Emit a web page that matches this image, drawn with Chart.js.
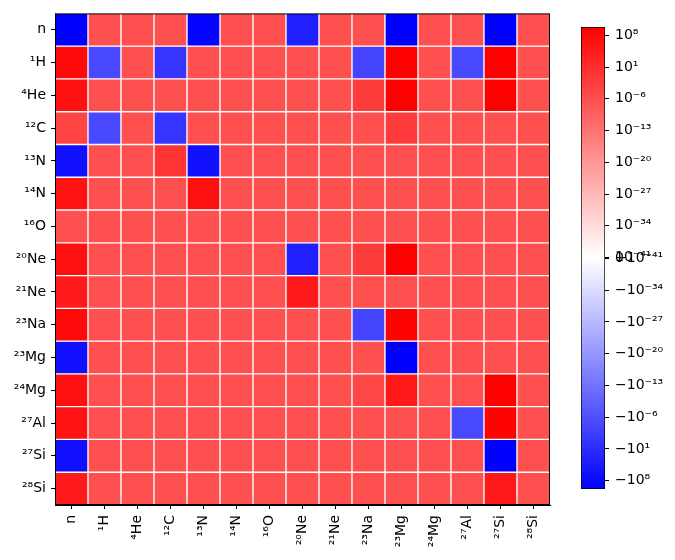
<!DOCTYPE html>
<html>
<head>
<meta charset="utf-8">
<script src="https://cdn.jsdelivr.net/npm/chart.js@4"></script>
<style>
  html, body { margin: 0; padding: 0; background: #fff; }
  #wrap { position: relative; width: 675px; height: 560px; }
  #heat { position: absolute; left: 0; top: 0; }
  #cbar { position: absolute; left: 581px; top: 0; }
</style>
</head>
<body>
<div id="wrap">
  <canvas id="heat" width="575" height="560"></canvas>
  <canvas id="cbar" width="94" height="560"></canvas>
</div>
<script>
// species on both axes (rows top to bottom, columns left to right)
const species = ['n', '¹H', '⁴He', '¹²C', '¹³N', '¹⁴N', '¹⁶O', '²⁰Ne', '²¹Ne',
                 '²³Na', '²³Mg', '²⁴Mg', '²⁷Al', '²⁷Si', '²⁸Si'];

// matrix values, one row per species
const rowN    = [-7e9, 7e-7, 7e-7, 7e-7, -1e9, 7e-7, 7e-7, -5e3, 7e-7, 7e-7, -7e9, 7e-7, 7e-7, -7e9, 7e-7];
const rowH1   = [6e7, -3e-5, 7e-7, -0.2, 7e-7, 7e-7, 7e-7, 7e-7, 7e-7, -2e-4, 7e9, 7e-7, -3e-5, 7e9, 7e-7];
const rowHe4  = [5e6, 7e-7, 7e-7, 7e-7, 7e-7, 7e-7, 7e-7, 7e-7, 7e-7, 7e-3, 7e9, 7e-7, 7e-7, 7e9, 7e-7];
const rowC12  = [2e-4, -3e-5, 7e-7, -0.2, 7e-7, 7e-7, 7e-7, 7e-7, 7e-7, 7e-7, 7e-3, 7e-7, 7e-7, 7e-7, 7e-7];
const rowN13  = [-4e6, 7e-7, 7e-7, 0.2, -4e6, 7e-7, 7e-7, 7e-7, 7e-7, 7e-7, 7e-7, 7e-7, 7e-7, 7e-7, 7e-7];
const rowN14  = [2e6, 7e-7, 7e-7, 7e-7, 5e6, 7e-7, 7e-7, 7e-7, 7e-7, 7e-7, 7e-7, 7e-7, 7e-7, 7e-7, 7e-7];
const rowO16  = [7e-7, 7e-7, 7e-7, 7e-7, 7e-7, 7e-7, 7e-7, 7e-7, 7e-7, 7e-7, 7e-7, 7e-7, 7e-7, 7e-7, 7e-7];
const rowNe20 = [5e6, 7e-7, 7e-7, 7e-7, 7e-7, 7e-7, 7e-7, -5e3, 7e-7, 7e-3, 7e9, 7e-7, 7e-7, 7e-7, 7e-7];
const rowNe21 = [3e4, 7e-7, 7e-7, 7e-7, 7e-7, 7e-7, 7e-7, 3e4, 7e-7, 7e-7, 7e-7, 7e-7, 7e-7, 7e-7, 7e-7];
const rowNa23 = [6e7, 7e-7, 7e-7, 7e-7, 7e-7, 7e-7, 7e-7, 7e-7, 7e-7, -2e-4, 2e9, 7e-7, 7e-7, 7e-7, 7e-7];
const rowMg23 = [-5e6, 7e-7, 7e-7, 7e-7, 7e-7, 7e-7, 7e-7, 7e-7, 7e-7, 7e-7, -7e9, 7e-7, 7e-7, 7e-7, 7e-7];
const rowMg24 = [5e6, 7e-7, 7e-7, 7e-7, 7e-7, 7e-7, 7e-7, 7e-7, 7e-7, 5e-5, 8e4, 7e-7, 7e-7, 7e9, 7e-7];
const rowAl27 = [2e6, 7e-7, 7e-7, 7e-7, 7e-7, 7e-7, 7e-7, 7e-7, 7e-7, 7e-7, 7e-7, 7e-7, -3e-5, 2e9, 7e-7];
const rowSi27 = [-5e6, 7e-7, 7e-7, 7e-7, 7e-7, 7e-7, 7e-7, 7e-7, 7e-7, 7e-7, 7e-7, 7e-7, 7e-7, -7e9, 7e-7];
const rowSi28 = [3e4, 7e-7, 7e-7, 7e-7, 7e-7, 7e-7, 7e-7, 7e-7, 7e-7, 7e-7, 7e-7, 7e-7, 7e-7, 8e4, 7e-7];

const matrix = [rowN, rowH1, rowHe4, rowC12, rowN13, rowN14, rowO16, rowNe20, rowNe21,
                rowNa23, rowMg23, rowMg24, rowAl27, rowSi27, rowSi28];

// colorbar ticks: exponents of +/-10^k, plus zero
const cbarExponents = [8, 1, -6, -13, -20, -27, -34, -41];
const vmax = 7e9;
const linthresh = 1e-40;

// symlog transform (matplotlib style, linscale = 1), in units of linthresh
const linscaleAdj = 1 / (1 - 1 / 10);
function symlog(x) {
    const a = Math.abs(x);
    if (a <= linthresh) return (x / linthresh) * linscaleAdj;
    return Math.sign(x) * (linscaleAdj + Math.log10(a / linthresh));
}
const U = symlog(vmax);

// bwr colormap
function bwr(x) {
    let t = (symlog(x) / U + 1) / 2;
    t = Math.max(0, Math.min(1, t));
    if (t < 0.5) {
        const c = Math.round(2 * t * 255);
        return `rgb(${c},${c},255)`;
    }
    const c = Math.round((2 - 2 * t) * 255);
    return `rgb(255,${c},${c})`;
}

Chart.defaults.font.family = "'DejaVu Sans', sans-serif";
Chart.defaults.font.size = 14;
Chart.defaults.color = '#000';

// heatmap: one stacked dataset per row, each cell is one unit tall
const heatDatasets = matrix.map((row, r) => ({
    label: species[r],
    data: row.map(() => 1),
    raw: row,
    backgroundColor: row.map(v => bwr(v)),
    borderColor: '#fff',
    borderWidth: 1,
    borderSkipped: false,
    barPercentage: 1,
    categoryPercentage: 1
}));

new Chart(document.getElementById('heat'), {
    type: 'bar',
    data: { labels: species, datasets: heatDatasets },
    options: {
        responsive: false,
        animation: false,
        layout: { padding: { top: 11, right: 25, left: 0, bottom: 0 } },
        plugins: {
            legend: { display: false },
            tooltip: {
                callbacks: {
                    title: items => species[items[0].datasetIndex] + ' / ' + species[items[0].dataIndex],
                    label: ctx => String(ctx.dataset.raw[ctx.dataIndex])
                }
            }
        },
        scales: {
            x: {
                stacked: true,
                grid: { offset: false, drawOnChartArea: false, tickLength: 4, color: '#000' },
                border: { display: true, color: '#000', width: 1 },
                ticks: { autoSkip: false, maxRotation: 90, minRotation: 90, padding: 6 },
                afterFit: s => { s.height = 55; }
            },
            y: {
                stacked: true,
                reverse: true,
                min: 0,
                max: species.length,
                grid: { drawOnChartArea: false, tickLength: 4, color: '#000' },
                border: { display: true, color: '#000', width: 1 },
                ticks: {
                    autoSkip: false,
                    padding: 5,
                    callback: value => species[Math.floor(value)]
                },
                afterBuildTicks: s => { s.ticks = species.map((_, i) => ({ value: i + 0.5 })); },
                afterFit: s => { s.width = 55; }
            }
        }
    },
    plugins: [{
        id: 'frame',
        afterDraw(chart) {
            const { ctx, chartArea: a } = chart;
            ctx.save();
            ctx.strokeStyle = '#000';
            ctx.lineWidth = 1;
            ctx.strokeRect(a.left + 0.5, a.top + 0.5, a.right - a.left - 1, a.bottom - a.top - 1);
            ctx.restore();
        }
    }]
});

function sup(k) {
    const map = { '-': '⁻', '0': '⁰', '1': '¹', '2': '²', '3': '³', '4': '⁴',
                  '5': '⁵', '6': '⁶', '7': '⁷', '8': '⁸', '9': '⁹' };
    return String(k).split('').map(c => map[c]).join('');
}

// colorbar ticks in transformed units
const cbarTicks = [];
cbarExponents.forEach(k => cbarTicks.push({ v: Math.pow(10, k), label: '10' + sup(k) }));
cbarTicks.push({ v: 0, label: '0' });
cbarExponents.slice().reverse().forEach(k => cbarTicks.push({ v: -Math.pow(10, k), label: '−10' + sup(k) }));

new Chart(document.getElementById('cbar'), {
    type: 'bar',
    data: {
        labels: [''],
        datasets: [{
            data: [[-U, U]],
            backgroundColor: ctx => {
                const a = ctx.chart.chartArea;
                if (!a) return '#fff';
                const g = ctx.chart.ctx.createLinearGradient(0, a.bottom, 0, a.top);
                g.addColorStop(0, 'rgb(0,0,255)');
                g.addColorStop(0.5, 'rgb(255,255,255)');
                g.addColorStop(1, 'rgb(255,0,0)');
                return g;
            },
            borderColor: '#000',
            borderWidth: 1,
            borderSkipped: false,
            barPercentage: 1,
            categoryPercentage: 1
        }]
    },
    options: {
        responsive: false,
        animation: false,
        layout: { padding: { top: 27, bottom: 71, left: 0, right: 0 } },
        plugins: { legend: { display: false }, tooltip: { enabled: false } },
        scales: {
            x: { display: false },
            y: {
                position: 'right',
                min: -U,
                max: U,
                grid: { drawOnChartArea: false, tickLength: 4, color: '#000' },
                border: { display: false },
                ticks: {
                    autoSkip: false,
                    padding: 6,
                    callback: (value, i) => cbarTicks[i].label
                },
                afterBuildTicks: s => { s.ticks = cbarTicks.map(t => ({ value: symlog(t.v) })); },
                afterFit: s => { s.width = 70; }
            }
        }
    }
});
</script>
</body>
</html>
